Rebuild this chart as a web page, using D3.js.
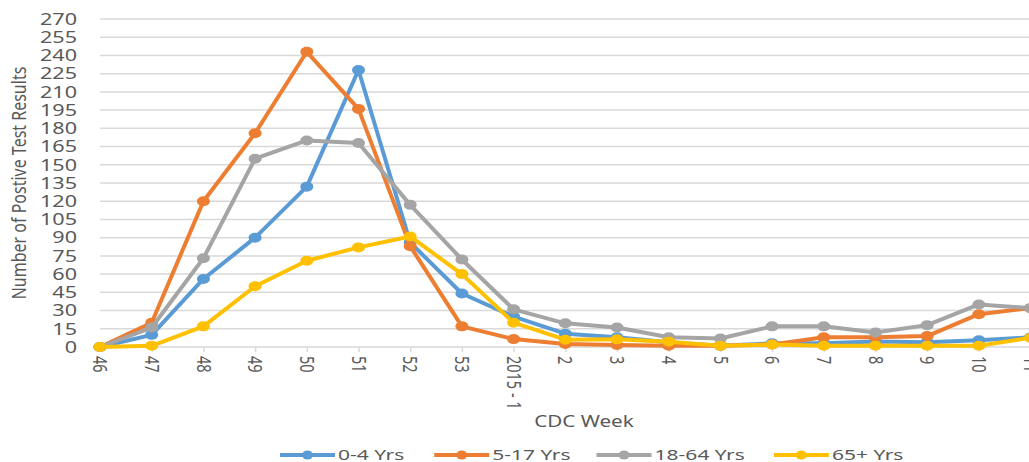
<!DOCTYPE html>
<html>
<head>
<meta charset="utf-8">
<script src="https://cdn.jsdelivr.net/npm/d3@7"></script>
<style>
  html, body { margin: 0; padding: 0; background: #fff; overflow: hidden; }
  text { font-family: "Noto Sans", sans-serif; fill: #595959; }
</style>
</head>
<body>
<svg width="1029" height="462"></svg>
<script>
var svg = d3.select("svg");

// chart data
var weeks = ["46", "47", "48", "49", "50", "51", "52", "53", "2015 - 1", "2", "3", "4", "5", "6", "7", "8", "9", "10", "11"];
var age0to4 = [0, 10, 56, 90, 132, 228, 86, 44, 25, 11, 8, 4, 1, 3, 3, 4.5, 4, 5.5, 8];
var age5to17 = [0, 20, 120, 176, 243, 196, 83, 17, 6.5, 2.5, 1.6, 1, 1, 2, 8, 8, 9, 27, 32];
var age18to64 = [0, 16, 73, 155, 170, 168, 117, 72, 31, 19.5, 16, 8, 7, 17, 17, 12, 18, 35, 32];
var age65plus = [0, 1, 17, 50, 71, 82, 91, 60, 20, 6, 6.3, 4.4, 1, 2, 1, 1, 1, 1, 7.6];
var seriesNames = ["0-4 Yrs", "5-17 Yrs", "18-64 Yrs", "65+ Yrs"];
var seriesColors = ["#5b9bd5", "#ed7d31", "#a5a5a5", "#ffc000"];
var yTicks = d3.range(0, 271, 15);

var allSeries = [age0to4, age5to17, age18to64, age65plus];

// the source picture is stretched sideways, so text gets a horizontal scale
var sx = 1.35;

var x = d3.scalePoint().domain(weeks).range([100, 100 + 18 * 51.7]);
var y = d3.scaleLinear().domain([0, 270]).range([347, 19]);

// gridlines
svg.append("g").selectAll("line")
  .data(yTicks.filter(function(d) { return d > 0; }))
  .enter().append("line")
  .attr("x1", 100).attr("x2", 1040)
  .attr("y1", function(d) { return y(d); })
  .attr("y2", function(d) { return y(d); })
  .attr("stroke", "#d9d9d9").attr("stroke-width", 1.5);

// y tick labels
svg.append("g").selectAll("text")
  .data(yTicks)
  .enter().append("text")
  .attr("transform", function(d) { return "translate(77," + y(d) + ") scale(" + sx + ",1)"; })
  .attr("text-anchor", "end")
  .attr("dy", "0.36em")
  .style("font-size", "16px")
  .text(function(d) { return d; });

// x axis line + ticks
var xAxis = svg.append("g").attr("transform", "translate(0," + y(0) + ")")
  .call(d3.axisBottom(x).tickSize(5).tickFormat(""));
xAxis.select(".domain").attr("d", "M100,0H1040").attr("stroke", "#d9d9d9").attr("stroke-width", 1.5);
xAxis.selectAll(".tick line").attr("stroke", "#d9d9d9").attr("stroke-width", 1.5);

// x tick labels, rotated
svg.append("g").selectAll("text")
  .data(weeks)
  .enter().append("text")
  .attr("transform", function(d) { return "translate(" + x(d) + ",356) scale(" + sx + ",1) rotate(90)"; })
  .attr("text-anchor", "start")
  .attr("dy", "0.35em")
  .style("font-size", "14.5px")
  .text(function(d) { return d; });

// axis titles
svg.append("text")
  .attr("transform", "translate(584,427) scale(1.25,1)")
  .attr("text-anchor", "middle")
  .style("font-size", "16.5px")
  .text("CDC Week");

svg.append("text")
  .attr("transform", "translate(26,183) scale(1.3,1) rotate(-90)")
  .attr("text-anchor", "middle")
  .style("font-size", "16px")
  .text("Number of Postive Test Results");

// lines and markers
var line = d3.line()
  .x(function(d, i) { return x(weeks[i]); })
  .y(function(d) { return y(d); });

allSeries.forEach(function(s, k) {
  var g = svg.append("g");
  g.append("path")
    .attr("d", line(s))
    .attr("fill", "none")
    .attr("stroke", seriesColors[k])
    .attr("stroke-width", 4)
    .attr("stroke-linejoin", "round");
  g.selectAll("ellipse")
    .data(s)
    .enter().append("ellipse")
    .attr("cx", function(d, i) { return x(weeks[i]); })
    .attr("cy", function(d) { return y(d); })
    .attr("rx", 6.5).attr("ry", 5)
    .attr("fill", seriesColors[k]);
});

// legend
var lx = 280;
var gaps = [30, 26, 29, 0];
seriesNames.forEach(function(name, k) {
  var g = svg.append("g");
  g.append("line")
    .attr("x1", lx).attr("x2", lx + 55)
    .attr("y1", 455).attr("y2", 455)
    .attr("stroke", seriesColors[k]).attr("stroke-width", 4);
  g.append("ellipse")
    .attr("cx", lx + 27.5).attr("cy", 455)
    .attr("rx", 5.5).attr("ry", 4.5)
    .attr("fill", seriesColors[k]);
  var t = g.append("text")
    .attr("transform", "translate(" + (lx + 58) + ",455) scale(1.45,1)")
    .attr("dy", "0.36em")
    .style("font-size", "14.5px")
    .text(name);
  lx = lx + 58 + t.node().getComputedTextLength() * 1.45 + gaps[k];
});
</script>
</body>
</html>
